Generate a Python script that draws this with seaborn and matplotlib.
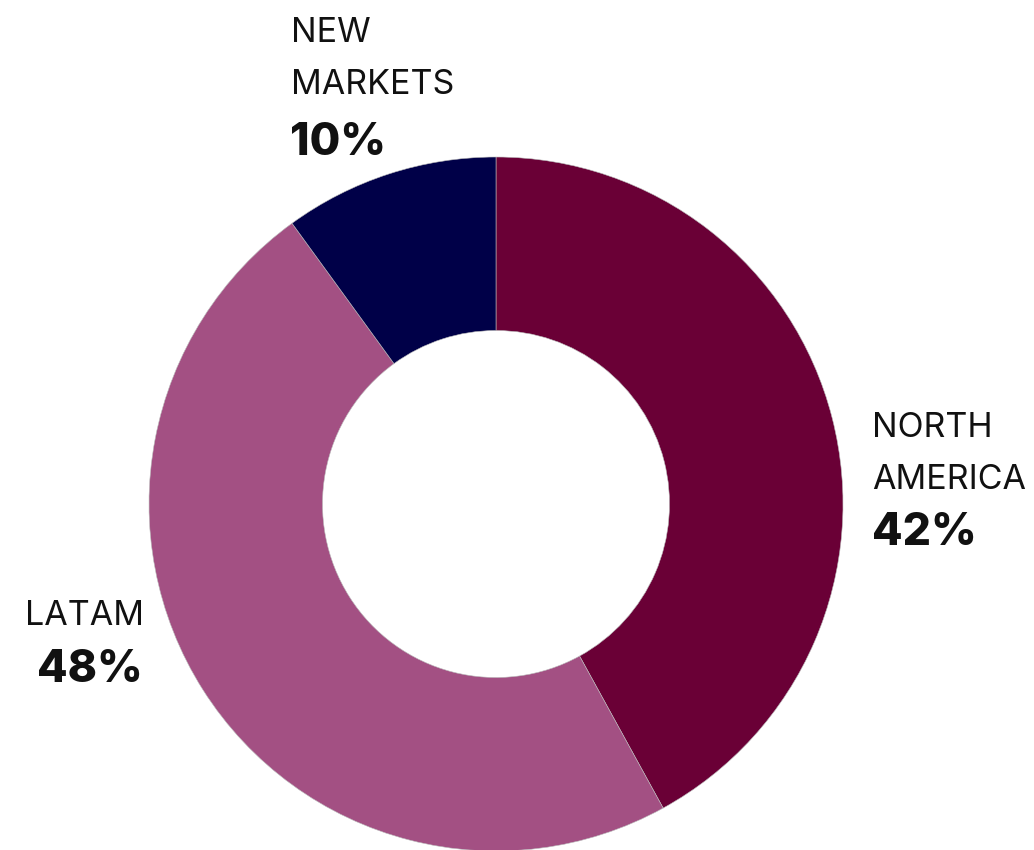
import matplotlib
matplotlib.use("Agg")
import matplotlib.pyplot as plt
import seaborn as sns

categories = ["NORTH\nAMERICA", "LATAM", "NEW\nMARKETS"]
shares = [42, 48, 10]
colors = ["#6A0036", "#A35083", "#000048"]

sns.set_theme(style="white")
plt.rcParams["font.family"] = ["Inter", "DejaVu Sans"]

W, H = 1034, 850
fig = plt.figure(figsize=(W / 100, H / 100), dpi=100)
fig.patch.set_facecolor("white")

cx, cy, R = 496, 504, 347
ax = fig.add_axes([(cx - R) / W, (H - cy - R) / H, 2 * R / W, 2 * R / H])
ax.pie(shares, colors=colors, startangle=90, counterclock=False, radius=1,
       wedgeprops=dict(width=0.5, edgecolor="#bbbbbb", linewidth=0.4))
ax.set_xlim(-1, 1)
ax.set_ylim(-1, 1)
ax.set_aspect("equal")
ax.axis("off")

# label anchors (left x, baseline y of first line) in pixels from top-left
anchors = [(872, 437), (25, 625), (291, 42)]
pct_offsets = [(0, 108), (12, 57), (-1, 113)]

def px(x, y):
    return x / W, 1 - y / H

for cat, val, (x, y), (dx, dy) in zip(categories, shares, anchors, pct_offsets):
    lines = cat.split("\n")
    for i, line in enumerate(lines):
        fx, fy = px(x, y + i * 52)
        fig.text(fx, fy, line, fontsize=24.5, color="#111111", ha="left", va="baseline")
    fx, fy = px(x + dx, y + dy)
    fig.text(fx, fy, f"{val}%", fontsize=32, fontweight="heavy", color="#111111",
             ha="left", va="baseline")

fig.savefig("out.png", dpi=100, facecolor="white")
